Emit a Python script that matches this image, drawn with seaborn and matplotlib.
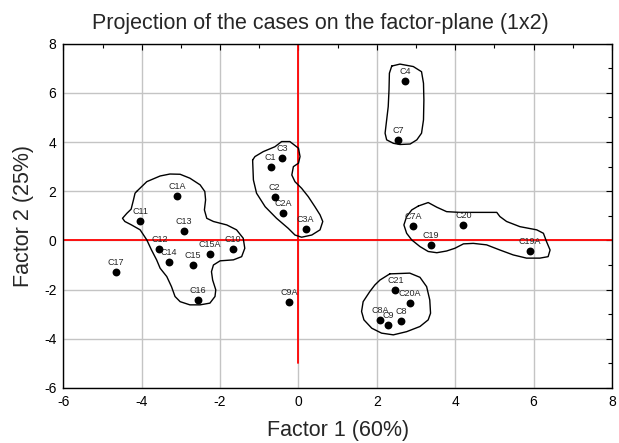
import numpy as np
import pandas as pd
import matplotlib
matplotlib.use("Agg")
import matplotlib.pyplot as plt
from matplotlib.ticker import MultipleLocator
import seaborn as sns

# ---- data ----
case_labels = ["C1A", "C11", "C13", "C12", "C14", "C15", "C15A", "C10", "C17", "C16",
               "C9A", "C4", "C7", "C3", "C1", "C2", "C2A", "C3A", "C7A", "C20",
               "C19", "C19A", "C21", "C20A", "C8A", "C9", "C8"]
factor1 = [-3.09, -4.04, -2.92, -3.55, -3.30, -2.69, -2.26, -1.68, -4.66, -2.56,
           -0.24, 2.72, 2.54, -0.42, -0.71, -0.61, -0.40, 0.18, 2.92, 4.21,
           3.38, 5.91, 2.47, 2.85, 2.09, 2.28, 2.62]
factor2 = [1.82, 0.79, 0.40, -0.33, -0.86, -1.01, -0.55, -0.35, -1.29, -2.41,
           -2.50, 6.50, 4.09, 3.35, 2.98, 1.76, 1.11, 0.48, 0.59, 0.64,
           -0.18, -0.44, -2.00, -2.55, -3.23, -3.45, -3.28]

# hand-drawn cluster outlines (data coordinates)
outline_left_x = [-4.13, -3.87, -3.53, -3.28, -3.02, -2.77, -2.51, -2.39, -2.37, -2.40, -2.34,
                  -2.17, -1.83, -1.58, -1.41, -1.37, -1.45, -1.66, -2.00, -2.17, -2.22, -2.19,
                  -2.11, -2.13, -2.26, -2.51, -2.77, -3.02, -3.15, -3.24, -3.36, -3.53, -3.62,
                  -3.75, -3.87, -4.04, -4.26, -4.43, -4.49, -4.38, -4.27, -4.21, -4.17]
outline_left_y = [1.99, 2.39, 2.62, 2.70, 2.69, 2.53, 2.26, 1.99, 1.65, 1.24, 0.90,
                  0.77, 0.63, 0.43, 0.09, -0.32, -0.66, -0.79, -0.83, -1.00, -1.27, -1.61,
                  -2.01, -2.28, -2.55, -2.62, -2.62, -2.49, -2.28, -1.88, -1.47, -1.13, -0.79,
                  -0.39, 0.02, 0.43, 0.63, 0.77, 0.90, 1.10, 1.27, 1.65, 1.92]
outline_mid_x = [-1.17, -1.15, -1.07, -0.85, -0.56, -0.26, -0.09, 0.08, 0.34, 0.55, 0.62,
                 0.55, 0.42, 0.25, 0.08, -0.09, -0.17, -0.13, 0.00, 0.04, 0.00, -0.22,
                 -0.43, -0.60, -0.90, -1.11]
outline_mid_y = [3.27, 2.46, 1.92, 1.37, 0.90, 0.49, 0.22, 0.13, 0.22, 0.43, 0.77,
                 1.04, 1.37, 1.78, 2.12, 2.39, 2.66, 3.00, 3.14, 3.41, 3.75, 4.02,
                 4.02, 3.81, 3.61, 3.41]
outline_top_x = [2.38, 2.59, 2.93, 3.14, 3.19, 3.20, 3.19, 3.14, 3.02, 2.85, 2.59, 2.42,
                 2.25, 2.21, 2.25, 2.29, 2.31, 2.32]
outline_top_y = [7.09, 7.17, 7.07, 6.86, 6.39, 5.71, 4.90, 4.36, 4.09, 3.92, 3.90, 3.95,
                 4.09, 4.36, 4.90, 5.44, 6.12, 6.80]
outline_right_x = [3.06, 3.31, 3.53, 3.78, 4.12, 5.06, 5.14, 5.31, 5.65, 6.08, 6.25, 6.33,
                   6.42, 6.37, 6.16, 5.82, 5.48, 5.14, 4.80, 4.46, 4.21, 3.99, 3.78, 3.53,
                   3.31, 3.10, 2.89, 2.76, 2.69, 2.76, 2.89]
outline_right_y = [1.40, 1.54, 1.35, 1.17, 1.14, 1.14, 0.97, 0.77, 0.56, 0.43, 0.29, -0.05,
                   -0.39, -0.66, -0.72, -0.72, -0.59, -0.39, -0.18, -0.12, -0.14, -0.32, -0.43,
                   -0.50, -0.45, -0.25, 0.02, 0.29, 0.63, 0.97, 1.24]
outline_bottom_x = [2.33, 2.84, 3.10, 3.27, 3.35, 3.37, 3.31, 3.10, 2.76, 2.42, 2.12, 1.87,
                    1.67, 1.61, 1.65, 1.82, 1.95, 2.08]
outline_bottom_y = [-1.36, -1.33, -1.50, -1.88, -2.42, -2.96, -3.23, -3.50, -3.71, -3.84,
                    -3.77, -3.57, -3.23, -2.89, -2.49, -2.08, -1.81, -1.61]

title_text = "Projection of the cases on the factor-plane (1x2)"
xlabel_text = "Factor 1 (60%)"
ylabel_text = "Factor 2 (25%)"
x_range = (-6, 8)
y_range = (-6, 8)
vline_range = (-5, 8)

df = pd.DataFrame({"case": case_labels, "f1": factor1, "f2": factor2})

# ---- style ----
sns.set_style("white")
plt.rcParams["font.family"] = ["Liberation Sans", "DejaVu Sans"]
plt.rcParams["axes.unicode_minus"] = False

fig = plt.figure(figsize=(6.19, 4.43), dpi=100)
ax = fig.add_axes([0.1023, 0.1242, 0.8864, 0.7772])

ax.set_xlim(*x_range)
ax.set_ylim(*y_range)
ax.xaxis.set_major_locator(MultipleLocator(2))
ax.yaxis.set_major_locator(MultipleLocator(2))
ax.xaxis.set_minor_locator(MultipleLocator(1))
ax.yaxis.set_minor_locator(MultipleLocator(1))
ax.grid(True, which="major", color="#c4c4c4", linewidth=1.0, zorder=0)
ax.set_axisbelow(True)
ax.tick_params(which="both", direction="in", top=True, right=True,
               labelsize=10, colors="black", width=0.8)
ax.tick_params(which="major", length=4, pad=5)
ax.tick_params(which="minor", length=3)
for s in ax.spines.values():
    s.set_color("black")
    s.set_linewidth(1.0)
    s.set_visible(True)

# red axis lines
ax.plot(list(x_range), [0, 0], color="#ff0000", linewidth=1.3, zorder=1)
ax.plot([0, 0], list(vline_range), color="#ff0000", linewidth=1.3, zorder=1)

# cluster outlines
for ox, oy in [(outline_left_x, outline_left_y), (outline_mid_x, outline_mid_y),
               (outline_top_x, outline_top_y), (outline_right_x, outline_right_y),
               (outline_bottom_x, outline_bottom_y)]:
    ax.plot(list(ox) + [ox[0]], list(oy) + [oy[0]], color="black", linewidth=1.0,
            zorder=2, solid_joinstyle="round")

# points
sns.scatterplot(data=df, x="f1", y="f2", ax=ax, color="black", s=32,
                edgecolor="black", linewidth=0, zorder=4, legend=False)

for name, x, y in zip(case_labels, factor1, factor2):
    ax.annotate(name, (x, y), xytext=(0, 3.5), textcoords="offset points",
                ha="center", va="bottom", fontsize=6.5, zorder=3)

fig.text(0.517, 0.934, title_text, fontsize=15.5, ha="center", va="baseline")
ax.set_xlabel(xlabel_text, fontsize=15.5, labelpad=8)
ax.set_ylabel(ylabel_text, fontsize=15.5, labelpad=7)

fig.savefig("out.png", dpi=100)
